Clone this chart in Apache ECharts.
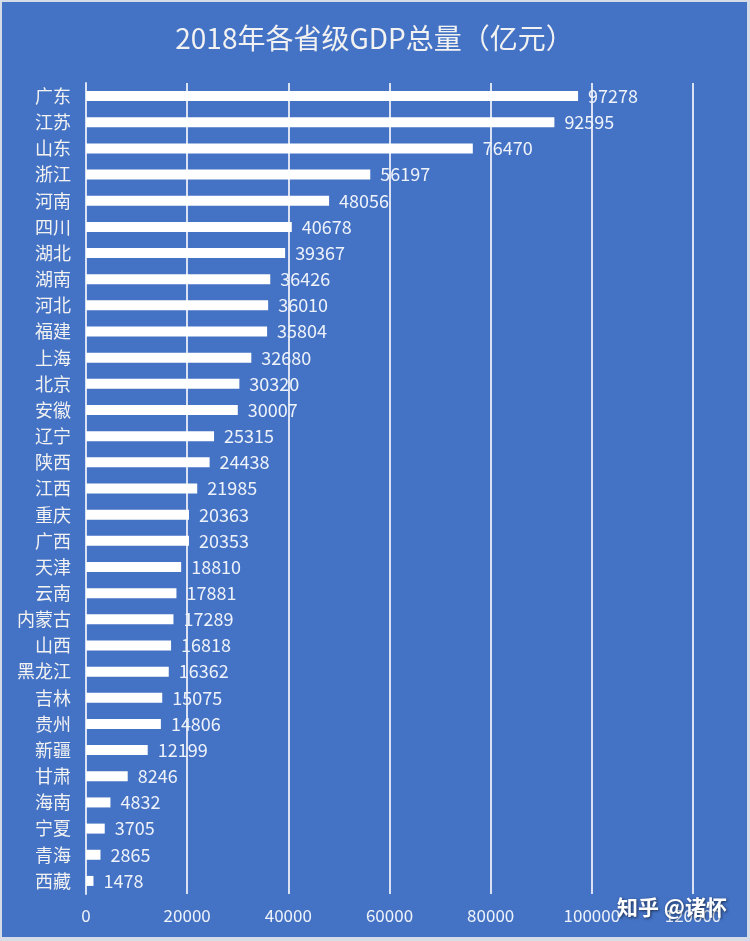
<!DOCTYPE html>
<html><head><meta charset="utf-8">
<script src="https://cdn.jsdelivr.net/npm/echarts@6/dist/echarts.min.js"></script>
<style>
html,body{margin:0;padding:0;background:#D5DCE8;}
#c{position:absolute;left:2px;top:2px;width:745px;height:935px;}
</style></head>
<body><div id="c"></div>
<script>
const categories = ['广东','江苏','山东','浙江','河南','四川','湖北','湖南','河北','福建','上海','北京','安徽','辽宁','陕西','江西','重庆','广西','天津','云南','内蒙古','山西','黑龙江','吉林','贵州','新疆','甘肃','海南','宁夏','青海','西藏'];
const gdp = [97278,92595,76470,56197,48056,40678,39367,36426,36010,35804,32680,30320,30007,25315,24438,21985,20363,20353,18810,17881,17289,16818,16362,15075,14806,12199,8246,4832,3705,2865,1478];
const xTicks = {min:0, max:120000, interval:20000};
const titleText = '2018年各省级GDP总量（亿元）';
const watermark = '知乎 @诸怀';

const font = '"Noto Sans CJK SC","Noto Sans",sans-serif';
const chart = echarts.init(document.getElementById('c'));
chart.setOption({
  backgroundColor:'#4472C4',
  animation:false,
  title:{text:titleText,left:'center',top:17,textStyle:{color:'#F2F2F2',fontSize:28,fontWeight:'normal',fontFamily:font}},
  grid:{left:84,right:54,top:81,bottom:43},
  xAxis:{type:'value',min:xTicks.min,max:xTicks.max,interval:xTicks.interval,
    axisLine:{show:false},axisTick:{show:false},
    splitLine:{show:true,lineStyle:{color:'#D9E1F2',width:2}},
    axisLabel:{color:'#EEF2FA',fontSize:17,fontFamily:font,margin:13,formatter:v=>String(v)}},
  yAxis:{type:'category',data:categories,inverse:true,
    axisLine:{show:true,lineStyle:{color:'#D9E1F2',width:2}},axisTick:{show:false},
    axisLabel:{color:'#F2F2F2',fontSize:18,fontFamily:font,margin:15}},
  series:[{type:'bar',data:gdp,barWidth:10,itemStyle:{color:'#FFFFFF'},
    label:{show:true,position:'right',distance:10,color:'#EEF2FA',fontSize:18,fontFamily:font}}],
  graphic:[{type:'text',right:20,bottom:19,z:100,style:{text:watermark,fill:'#FFFFFF',font:'bold 21px '+font,
    textShadowColor:'rgba(0,0,0,0.6)',textShadowBlur:3,textShadowOffsetX:1,textShadowOffsetY:1}}]
});
</script></body></html>
